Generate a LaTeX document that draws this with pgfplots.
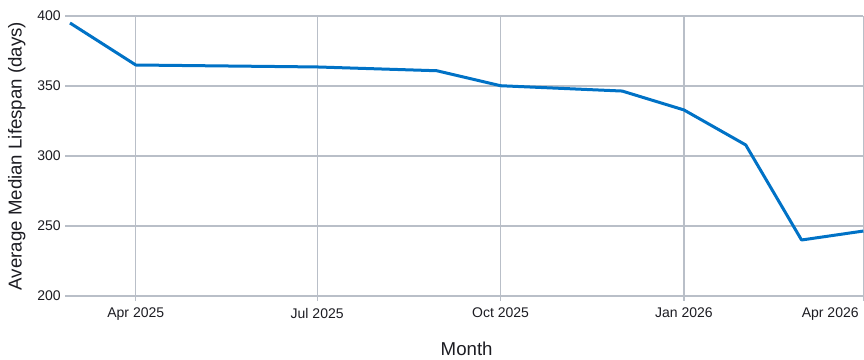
\documentclass[border=0pt]{standalone}
\usepackage{fontspec}
\setmainfont{Liberation Sans}
\usepackage{pgfplots}
\pgfplotsset{compat=1.18}
\definecolor{gridc}{RGB}{185,191,200}
\definecolor{linec}{RGB}{0,114,198}
\definecolor{txt}{RGB}{28,28,34}
\begin{document}
\begin{tikzpicture}
\path[use as bounding box] (-52.5pt,-48pt) rectangle (595.5pt,222pt);
\begin{axis}[
  at={(0pt,0pt)}, anchor=south west,
  scale only axis,
  width=595pt, height=210pt,
  xmin=57, xmax=455,
  ymin=200, ymax=400,
  ytick={200,250,300,350,400},
  xtick={90,181,273,365},
  xticklabels={Apr 2025,Jul 2025,Oct 2025,Jan 2026},
  extra x ticks={455},
  extra x tick labels={Apr 2026},
  extra x tick style={xticklabel style={anchor=north east, xshift=0pt}},
  grid=major,
  major grid style={gridc, line width=1pt},
  axis line style={draw=none},
  tick style={gridc, line width=1pt},
  major tick length=3.5pt,
  tick align=outside,
  xtick pos=bottom, ytick pos=left,
  /pgf/number format/assume math mode=true,
  ticklabel style={font=\fontsize{10.5}{12}\selectfont, text=txt},
  xticklabel style={yshift=-2pt},
  xlabel={Month},
  ylabel={Average Median Lifespan (days)},
  label style={font=\fontsize{14}{16}\selectfont, text=txt},
  xlabel style={at={(axis description cs:0.5,-0.19)}, anchor=center},
  ylabel style={at={(axis description cs:-0.067,0.5)}, anchor=center},
  clip=false,
]
\addplot[linec, line width=2.25pt, line join=round, mark=none] coordinates {
(57,395.0) (90,365.0) (181,363.6) (241,360.9) (273,350.2) (334,346.4) (365,332.9) (396,307.9) (424,240.0) (455,246.4)
};
\end{axis}
\end{tikzpicture}
\end{document}
